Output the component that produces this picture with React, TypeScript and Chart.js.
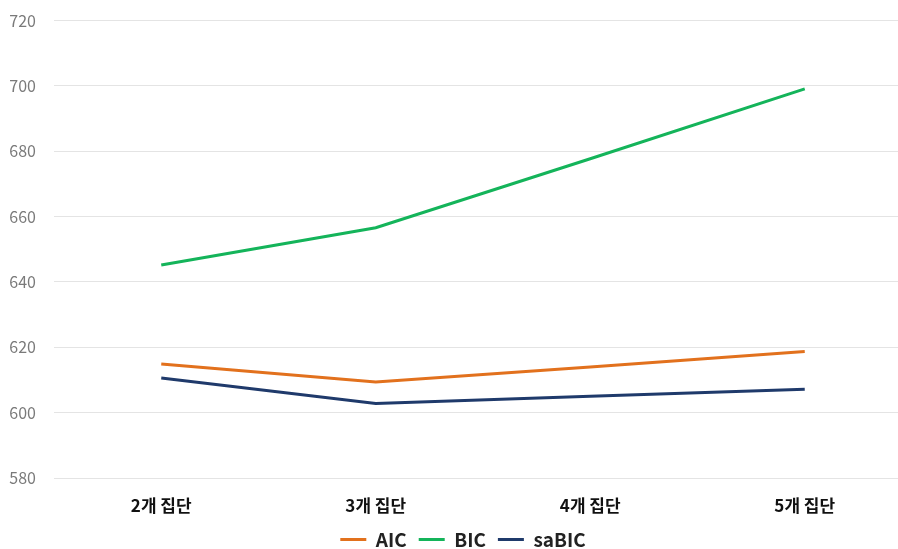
import React, { useEffect, useRef } from "react";
import { Chart, registerables } from "chart.js";

Chart.register(...registerables);

const categories = ["2개 집단", "3개 집단", "4개 집단", "5개 집단"];
const aic = [614.9, 609.4, 614.0, 618.7];
const bic = [645.2, 656.6, 677.7, 699.1];
const sabic = [610.6, 602.8, 605.0, 607.2];
const yMin = 580;
const yMax = 720;
const yStep = 20;

const FONT = "'Noto Sans CJK KR', 'Noto Sans', sans-serif";

const legendShift = {
  id: "legendShift",
  afterLayout(chart: any) {
    const lg = chart.legend;
    if (lg) {
      lg.left += 7;
      lg.right += 7;
    }
  },
};

export default function App() {
  const ref = useRef<HTMLCanvasElement | null>(null);
  useEffect(() => {
    if (!ref.current) return;
    const chart = new Chart(ref.current, {
      type: "line",
      data: {
        labels: categories,
        datasets: [
          { label: "AIC", data: aic, borderColor: "#E2711D", backgroundColor: "#E2711D", borderWidth: 3, pointRadius: 0, tension: 0 },
          { label: "BIC", data: bic, borderColor: "#14B45A", backgroundColor: "#14B45A", borderWidth: 3, pointRadius: 0, tension: 0 },
          { label: "saBIC", data: sabic, borderColor: "#1F3A6B", backgroundColor: "#1F3A6B", borderWidth: 3, pointRadius: 0, tension: 0 },
        ],
      },
      options: {
        animation: false,
        responsive: false,
        maintainAspectRatio: false,
        layout: { padding: { top: 5, left: 0, right: 0, bottom: 0 } },
        plugins: {
          tooltip: { enabled: false },
          legend: {
            position: "bottom",
            labels: {
              usePointStyle: true,
              pointStyle: "line",
              pointStyleWidth: 26,
              color: "#222",
              padding: 12,
              font: { family: FONT, size: 19, weight: "bold" },
            },
          },
        },
        scales: {
          x: {
            offset: true,
            afterFit: (s: any) => { s.height = 40; },
            grid: { display: false, drawTicks: false },
            border: { display: false },
            ticks: { color: "#111", padding: 17, font: { family: FONT, size: 17, weight: "bold" } },
          },
          y: {
            min: yMin,
            max: yMax,
            afterFit: (s: any) => { s.width = 54; },
            grid: { color: "#E4E4E4", lineWidth: 1, drawTicks: false },
            border: { display: false },
            ticks: { stepSize: yStep, color: "#7a7a7a", padding: 18, font: { family: FONT, size: 16 } },
          },
        },
      },
      plugins: [legendShift],
    });
    return () => chart.destroy();
  }, []);
  return (
    <div style={{ position: "fixed", left: 0, top: -7, width: 912, height: 566, background: "#fff" }}>
      <canvas ref={ref} width={912} height={566} style={{ width: 912, height: 566 }} />
    </div>
  );
}
